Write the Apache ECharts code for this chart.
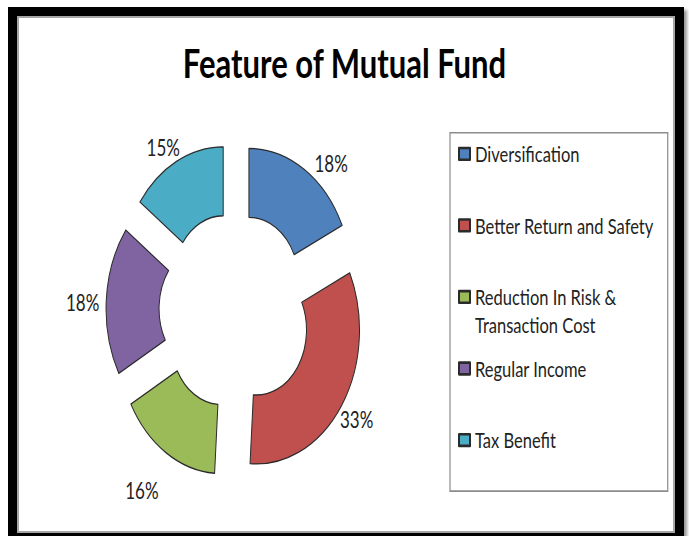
<!DOCTYPE html>
<html>
<head>
<meta charset="utf-8">
<title>Feature of Mutual Fund</title>
<script src="https://cdn.jsdelivr.net/npm/echarts@6/dist/echarts.min.js"></script>
<style>
  html, body { margin: 0; padding: 0; background: #fff; }
  #wrap { position: relative; width: 689px; height: 536px; overflow: hidden; }
  /* the picture is stretched vertically, so draw at 412px and scale up */
  #chart { position: absolute; left: 0; top: 0; width: 689px; height: 412px;
    transform: scaleY(1.301); transform-origin: 0 0; }
  #frame { position: absolute; left: 8px; top: 7px; width: 676px; height: 535px;
    box-sizing: border-box; border: 9px solid #000;
    box-shadow: inset 0 0 0 2px #a6a6a6, 3px 3px 3px #999; pointer-events: none; }
</style>
</head>
<body>
<div id="wrap">
  <div id="chart"></div>
  <div id="frame"></div>
</div>
<script>
const categories = ['Diversification', 'Better Return and Safety', 'Reduction In Risk & Transaction Cost', 'Regular Income', 'Tax Benefit']
const shares = [18, 33, 16, 18, 15]
const colors = ['#4F81BD', '#C0504D', '#9BBB59', '#8064A2', '#4BACC6']

// small nudges for the percent labels (excel "best fit" placement)
const labelNudge = [[0, 4], [-15, 5], [3, 21], [8, 2], [13, -2]]

const chart = echarts.init(document.getElementById('chart'), null, { renderer: 'svg' })

const font = 'Lato, "Open Sans", sans-serif'
const lineH = 21.5

const option = {
  animation: false,
  title: {
    text: 'Feature of Mutual Fund',
    left: 'center',
    top: 28,
    textStyle: { fontFamily: font, fontSize: 31, fontWeight: 'bold', color: '#000' }
  },
  legend: {
    orient: 'vertical',
    left: 450,
    top: 102,
    padding: [5.5, 14, 7, 8],
    itemGap: 12,
    itemWidth: 11,
    itemHeight: 9 + lineH,
    // square sits at the top of the key box so it lines up with the first text line
    icon: 'path://M0,0h11v9h-11zM0,' + (9 + lineH),
    borderColor: '#8c8c8c',
    borderWidth: 1.2,
    data: categories,
    formatter: name => name.indexOf('& ') > 0 ? name.replace('& ', '&\n') : name + '\n\u00a0',
    textStyle: { fontFamily: font, fontSize: 16.5, color: '#222', lineHeight: lineH }
  },
  series: [{
    name: 'Feature',
    type: 'pie',
    center: [235, 239],
    radius: [50, 103],
    startAngle: 90,
    clockwise: true,
    selectedMode: 'multiple',
    selectedOffset: 26,
    avoidLabelOverlap: false,
    itemStyle: { borderColor: '#2b2b2b', borderWidth: 1 },
    label: {
      show: true,
      position: 'outside',
      formatter: '{c}%',
      fontFamily: font,
      fontSize: 17,
      color: '#222'
    },
    labelLine: { show: false, length: 10, length2: 0 },
    labelLayout: p => ({ dx: labelNudge[p.dataIndex][0], dy: labelNudge[p.dataIndex][1] }),
    emphasis: { disabled: true },
    data: categories.map((name, i) => ({
      name: name,
      value: shares[i],
      selected: true,
      itemStyle: { color: colors[i] }
    }))
  }]
}

chart.setOption(option)
</script>
</body>
</html>
